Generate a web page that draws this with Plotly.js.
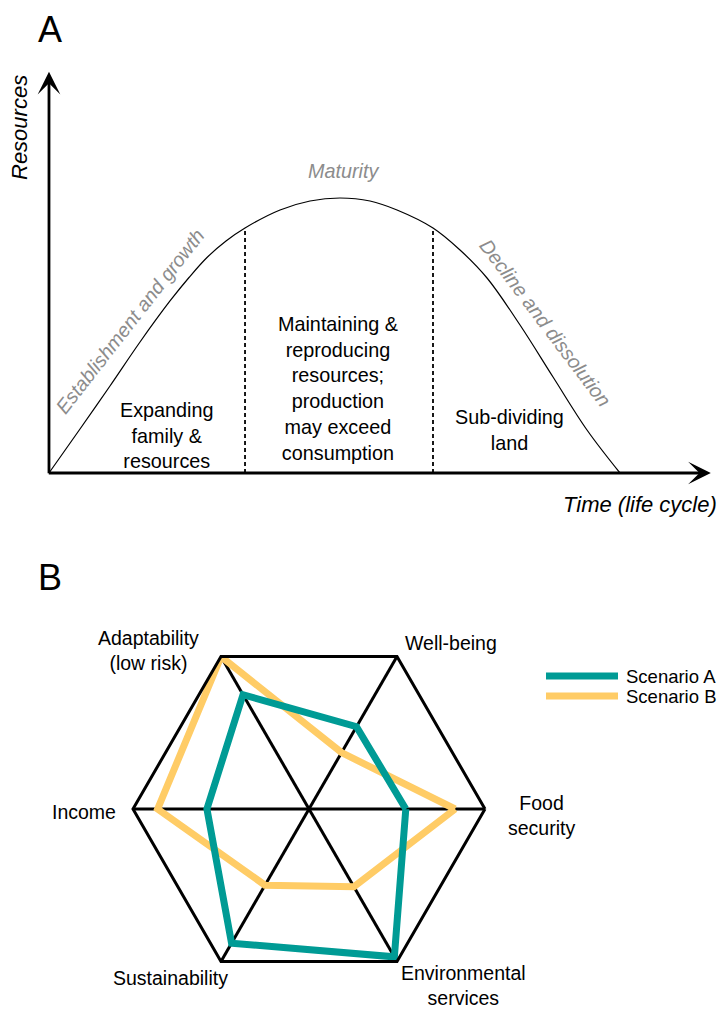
<!DOCTYPE html>
<html><head><meta charset="utf-8">
<script src="https://cdn.plot.ly/plotly-3.0.1.min.js"></script>
<style>html,body{margin:0;padding:0;background:#fff;}#chart{width:720px;height:1009px;}</style>
</head><body><div id="chart"></div>
<script>
// ---------- Panel A data: family farm life cycle ----------
const lifeTime = [0, 5.43, 10.68, 15.94, 21.19, 24.52, 27.67, 31.0, 34.33, 40.46, 45.71, 50.96, 56.22, 60.95, 67.25, 71.98, 76.71, 82.49, 88.27, 94.22, 100];
const lifeResources = [0, 16.0, 31.64, 47.64, 62.55, 71.09, 78.36, 84.36, 89.09, 95.64, 98.91, 100, 98.91, 95.64, 89.09, 81.09, 70.91, 53.82, 34.91, 15.64, 0];
const phaseBoundaryTime = [34.33, 67.25];
const phaseBoundaryResources = [89.09, 89.09];
const phaseNames = ['Establishment and growth', 'Maturity', 'Decline and dissolution'];
const phaseActivities = ['Expanding<br>family &<br>resources',
  'Maintaining &<br>reproducing<br>resources;<br>production<br>may exceed<br>consumption',
  'Sub-dividing<br>land'];
const axisNames = ['Time (life cycle)', 'Resources'];
const panelLetters = ['A', 'B'];

// ---------- Panel B data: scenario radar ----------
const dimensions = ['Food security', 'Well-being', 'Adaptability (low risk)', 'Income', 'Sustainability', 'Environmental services'];
const dimensionLabels = ['Food<br>security', 'Well-being', 'Adaptability<br>(low risk)', 'Income', 'Sustainability', 'Environmental<br>services'];
const scenarioNames = ['Scenario A', 'Scenario B'];
const scenarioA = [5.5, 5.4, 7.5, 5.8, 8.8, 9.7];
const scenarioB = [8.3, 3.7, 10, 8.6, 5.0, 5.1];
const scenarioColors = ['#009b95', '#ffcc66'];

const W = 720, H = 1009;
const px = v => v / W, py = v => 1 - v / H;
const FONT = 'Liberation Sans, Arial, sans-serif';
const GRAY = '#8c8c8c';

const close = a => a.concat([a[0]]);

const traces = [];
// life cycle curve
traces.push({type: 'scatter', mode: 'lines', x: lifeTime, y: lifeResources, xaxis: 'x', yaxis: 'y',
  line: {color: '#000', width: 1.2, shape: 'spline', smoothing: 1}, hoverinfo: 'skip', showlegend: false});
// phase boundaries
phaseBoundaryTime.forEach((t, i) => {
  traces.push({type: 'scatter', mode: 'lines', x: [t, t], y: [0, phaseBoundaryResources[i]], xaxis: 'x', yaxis: 'y',
    line: {color: '#000', width: 1.8, dash: '4px,3px'}, hoverinfo: 'skip', showlegend: false});
});
// radar (B below A so A is drawn on top)
traces.push({type: 'scatterpolar', mode: 'lines', name: scenarioNames[1], r: close(scenarioB), theta: close(dimensions),
  line: {color: scenarioColors[1], width: 7}, showlegend: false});
traces.push({type: 'scatterpolar', mode: 'lines', name: scenarioNames[0], r: close(scenarioA), theta: close(dimensions),
  line: {color: scenarioColors[0], width: 7}, showlegend: false});

const ann = [];
// Axis arrows (panel A)
ann.push({xref: 'x', yref: 'y', axref: 'x', ayref: 'y', x: 115.9, y: 0, ax: -0.3, ay: 0, showarrow: true,
  arrowhead: 3, arrowsize: 1.35, arrowwidth: 2.8, arrowcolor: '#000', text: ''});
ann.push({xref: 'x', yref: 'y', axref: 'x', ayref: 'y', x: 0, y: 145.9, ax: 0, ay: -0.6, showarrow: true,
  arrowhead: 3, arrowsize: 1.35, arrowwidth: 2.8, arrowcolor: '#000', text: ''});
// axis names
ann.push({xref: 'paper', yref: 'paper', x: px(640), y: py(505), text: axisNames[0], showarrow: false,
  font: {family: FONT, size: 22, color: '#000', style: 'italic'}, xanchor: 'center', yanchor: 'middle'});
ann.push({xref: 'paper', yref: 'paper', x: px(19), y: py(128), text: axisNames[1], showarrow: false, textangle: -90,
  font: {family: FONT, size: 22, color: '#000', style: 'italic'}, xanchor: 'center', yanchor: 'middle'});
// panel letters
ann.push({xref: 'paper', yref: 'paper', x: px(50), y: py(29), text: panelLetters[0], showarrow: false,
  font: {family: FONT, size: 36, color: '#000'}, xanchor: 'center', yanchor: 'middle'});
ann.push({xref: 'paper', yref: 'paper', x: px(50), y: py(577), text: panelLetters[1], showarrow: false,
  font: {family: FONT, size: 36, color: '#000'}, xanchor: 'center', yanchor: 'middle'});
// phase names
const phasePos = [[14.2, 55.3, -52], [51.5, 109.8, 0], [87.0, 54.7, 53]];
phaseNames.forEach((n, i) => ann.push({xref: 'x', yref: 'y', x: phasePos[i][0], y: phasePos[i][1], text: n,
  textangle: phasePos[i][2], showarrow: false, font: {family: FONT, size: 19.8, color: GRAY, style: 'italic'}}));
// phase activities
const actPos = [[20.7, 13.8], [50.6, 30.9], [80.7, 15.8]];
phaseActivities.forEach((n, i) => ann.push({xref: 'x', yref: 'y', x: actPos[i][0], y: actPos[i][1], text: n,
  showarrow: false, align: 'center', font: {family: FONT, size: 19.8, color: '#000'}}));
// radar labels
const labPos = [[541, 815.5], [450.5, 643.3], [148.3, 650.5], [84, 811.7], [170.8, 978.3], [463.7, 985]];
dimensionLabels.forEach((n, i) => ann.push({xref: 'paper', yref: 'paper', x: px(labPos[i][0]), y: py(labPos[i][1]),
  text: n, showarrow: false, align: 'center', xanchor: 'center', yanchor: 'middle',
  font: {family: FONT, size: 19.5, color: '#000'}}));
// legend (drawn as line swatches + labels)
const legY = [676, 696];
const shapes = [];
scenarioNames.forEach((n, i) => {
  shapes.push({type: 'line', xref: 'paper', yref: 'paper', x0: px(546), x1: px(618), y0: py(legY[i]), y1: py(legY[i]),
    line: {color: scenarioColors[i], width: 7}});
  ann.push({xref: 'paper', yref: 'paper', x: px(624), y: py(legY[i]), text: n, showarrow: false,
    xanchor: 'left', yanchor: 'middle', font: {family: FONT, size: 18.5, color: '#000'}});
});

const layout = {
  width: W, height: H, margin: {l: 0, r: 0, t: 0, b: 0, autoexpand: false},
  paper_bgcolor: '#fff', plot_bgcolor: '#fff', showlegend: false,
  font: {family: FONT, color: '#000'},
  xaxis: {domain: [0, 1], range: [-8.58, 117.51], showgrid: false, zeroline: false, showticklabels: false,
    showline: false, ticks: '', fixedrange: true},
  yaxis: {domain: [1 - 520 / H, 1], range: [-17.09, 172.0], showgrid: false, zeroline: false, showticklabels: false,
    showline: false, ticks: '', fixedrange: true},
  polar: {
    domain: {x: [133 / W, 485 / W], y: [24 / H, 376 / H]},
    gridshape: 'linear', bgcolor: '#fff',
    radialaxis: {range: [0, 10], showgrid: false, showline: false, showticklabels: false, ticks: ''},
    angularaxis: {type: 'category', categoryarray: dimensions, rotation: 0, direction: 'counterclockwise',
      showline: true, linecolor: '#000', linewidth: 3, showgrid: true, gridcolor: '#000', gridwidth: 3,
      showticklabels: false, ticks: ''}
  },
  annotations: ann, shapes: shapes
};

Plotly.newPlot('chart', traces, layout, {staticPlot: true, displayModeBar: false});
</script></body></html>
